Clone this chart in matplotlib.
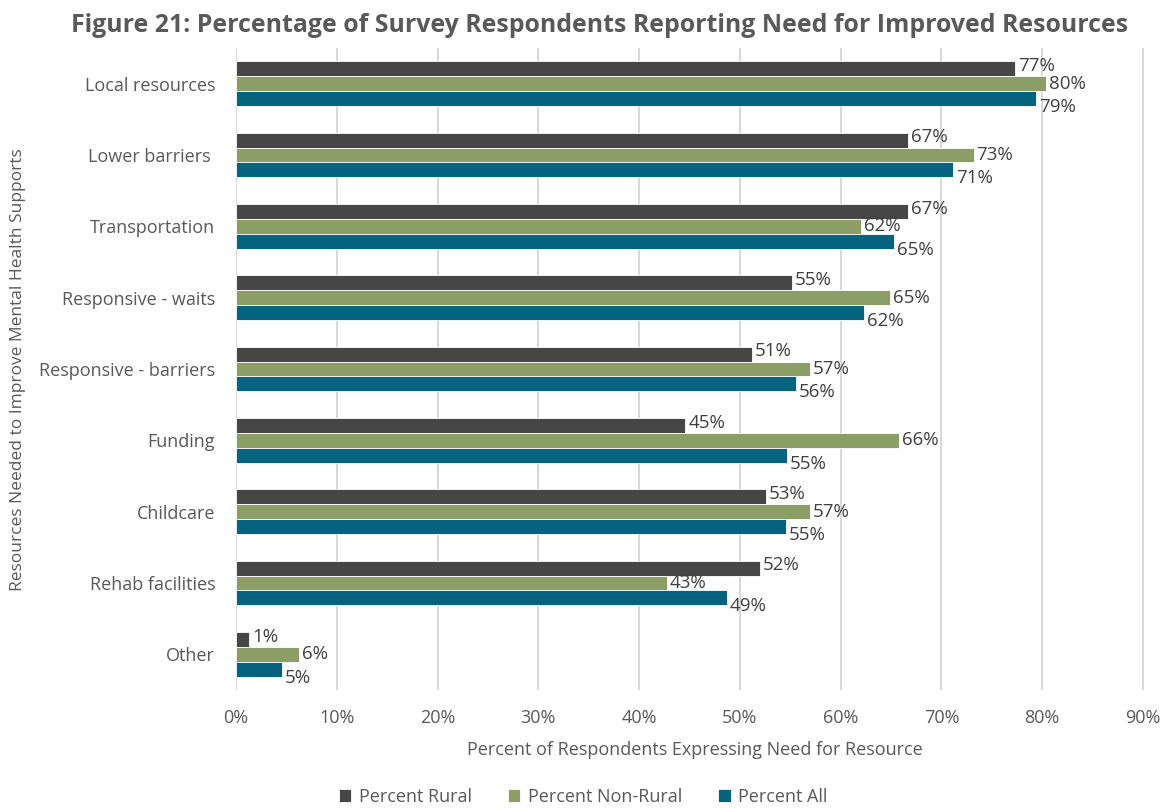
import numpy as np
import matplotlib.pyplot as plt
from matplotlib.ticker import PercentFormatter

plt.rcParams['font.family'] = ['Open Sans', 'DejaVu Sans']

categories = ['Local resources', 'Lower barriers ', 'Transportation', 'Responsive - waits',
              'Responsive - barriers', 'Funding', 'Childcare', 'Rehab facilities', 'Other']
rural = [77.3, 66.7, 66.7, 55.2, 51.2, 44.6, 52.6, 52.0, 1.3]
non_rural = [80.4, 73.2, 62.0, 64.9, 57.0, 65.8, 57.0, 42.8, 6.3]
all_resp = [79.4, 71.2, 65.3, 62.3, 55.6, 54.7, 54.6, 48.7, 4.6]

series = [('Percent Rural', rural, '#464646', -2),
          ('Percent Non-Rural', non_rural, '#8A9E66', 0),
          ('Percent All', all_resp, '#05637F', 6)]

text_col = '#404040'
tick_col = '#595959'

fig = plt.figure(figsize=(11.61, 8.08), dpi=100)
ax = fig.add_axes([236 / 1161, 1 - 690 / 808, (1153 - 236) / 1161, (690 - 48) / 808])

y = np.arange(len(categories))
h = 0.21
for i, (name, vals, col, dy) in enumerate(series):
    pos = y + (i - 1) * h
    ax.barh(pos, vals, height=h, color=col, edgecolor='white', linewidth=0.6,
            label=name, zorder=3)
    for p, v in zip(pos, vals):
        ax.annotate(f'{v:.0f}%', (v, p), xytext=(2, -dy), textcoords='offset points',
                    ha='left', va='center', fontsize=13.5, color=text_col, zorder=4)

ax.set_xlim(0, 91)
ax.set_ylim(len(categories) - 0.5, -0.5)
ax.set_xticks(np.arange(0, 91, 10))
ax.xaxis.set_major_formatter(PercentFormatter(decimals=0))
ax.set_yticks(y)
ax.set_yticklabels(categories)
ax.tick_params(axis='both', length=0, labelsize=13, labelcolor=tick_col)
ax.tick_params(axis='x', pad=14)
ax.tick_params(axis='y', pad=15)
ax.grid(axis='x', color='#D9D9D9', linewidth=1.5, zorder=0)
for s in ax.spines.values():
    s.set_visible(False)

ax.set_xlabel('Percent of Respondents Expressing Need for Resource', fontsize=13,
              color=tick_col, labelpad=10)
fig.text(18 / 1161, 1 - 370 / 808, 'Resources Needed to Improve Mental Health Supports',
         rotation=90, ha='center', va='center', fontsize=12.5, color=tick_col)

fig.text(600 / 1161, 1 - 25 / 808,
         'Figure 21: Percentage of Survey Respondents Reporting Need for Improved Resources',
         ha='center', va='center', fontsize=17.9, fontweight='bold', color='#595959')

fig.legend(loc='center', bbox_to_anchor=(583 / 1161, 1 - 797 / 808), ncol=3, frameon=False,
           fontsize=13, labelcolor=tick_col, handlelength=0.7, handleheight=0.7,
           columnspacing=2.0, handletextpad=0.4)

fig.savefig('out.png', dpi=100)
